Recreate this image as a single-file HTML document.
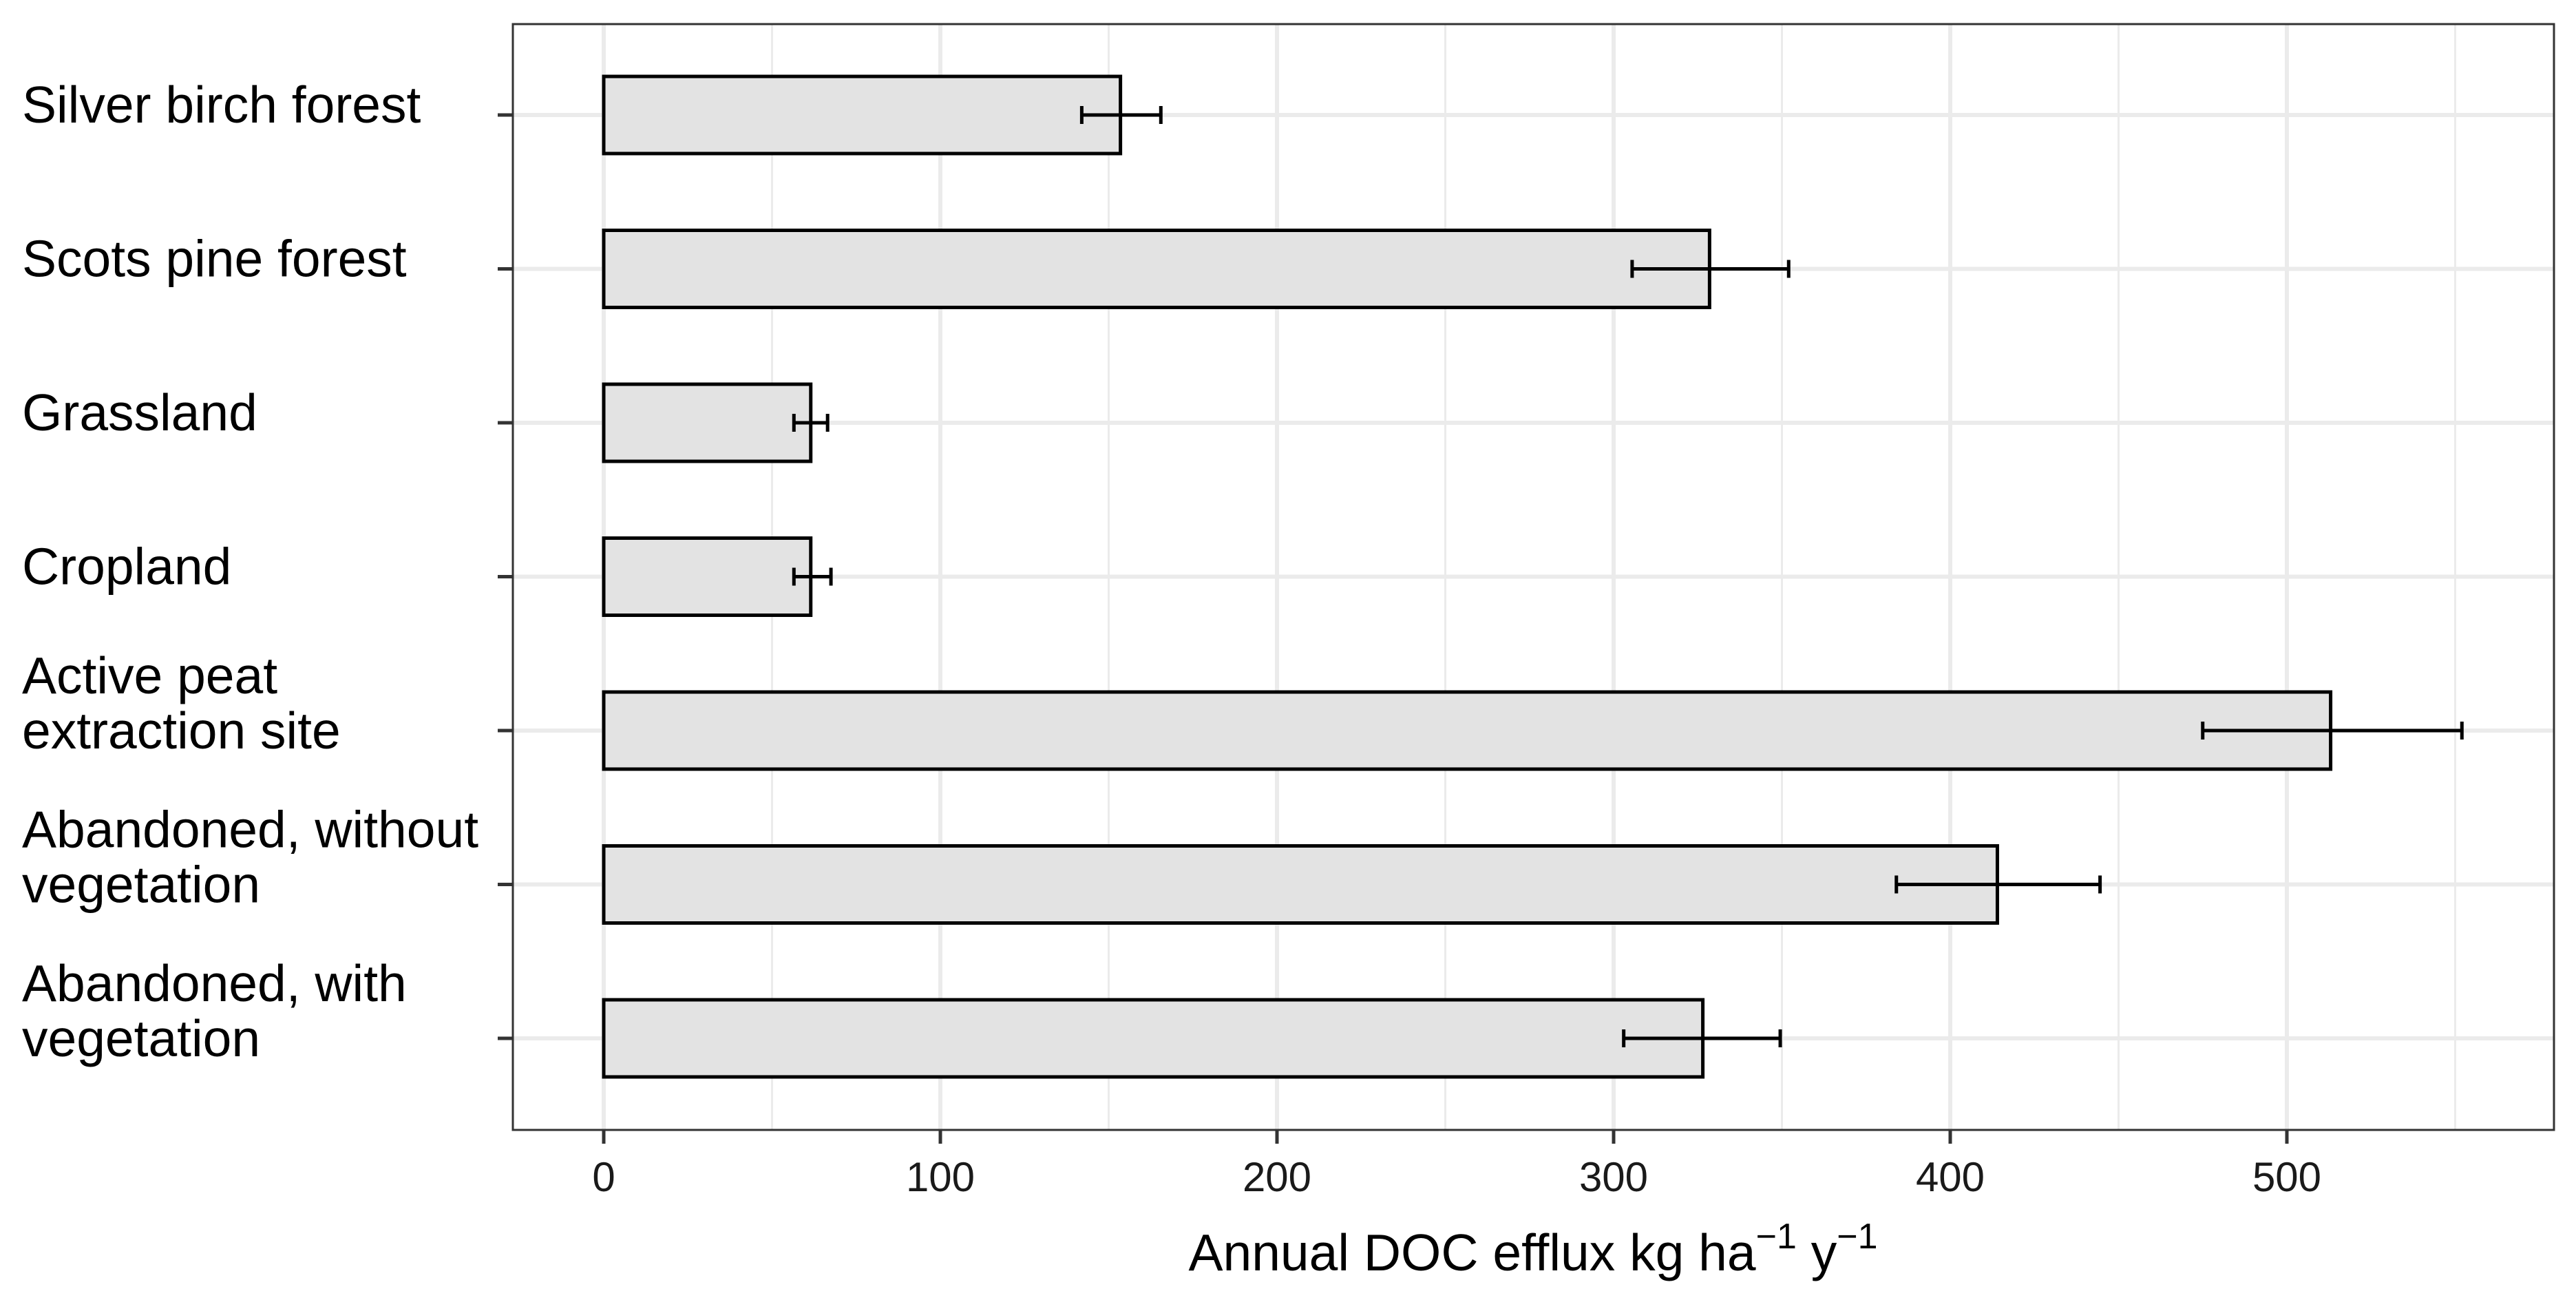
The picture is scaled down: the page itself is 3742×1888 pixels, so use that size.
<!DOCTYPE html>
<html><head><meta charset="utf-8"><style>
html,body{margin:0;padding:0;background:#fff;}
svg{display:block;font-family:"Liberation Sans",Arial,sans-serif;}
</style></head><body>
<svg id="chart" width="3742" height="1888" viewBox="0 0 3742 1888" xmlns="http://www.w3.org/2000/svg">
<rect x="0" y="0" width="3742" height="1888" fill="#fff"/>
<g id="grid"></g>
<g id="bars"></g>
<rect x="745" y="35" width="2965" height="1606" fill="none" stroke="#333" stroke-width="3"/>
<g id="axes"></g>
<text x="2227" y="1845" font-size="75" text-anchor="middle" fill="#000">Annual DOC efflux kg ha<tspan font-size="52" dy="-32">−1</tspan><tspan dy="32"> y</tspan><tspan font-size="52" dy="-32">−1</tspan></text>
</svg>
<script>
const categories = [["Silver birch forest"],["Scots pine forest"],["Grassland"],["Cropland"],["Active peat","extraction site"],["Abandoned, without","vegetation"],["Abandoned, with","vegetation"]];
const values = [153.5, 328.5, 61.5, 61.5, 513, 414, 326.5];
const errLow = [142, 305.5, 56.5, 56.5, 475, 384, 303];
const errHigh = [165.5, 352, 66.5, 67.5, 552, 444.5, 349.5];
const xTicks = [0, 100, 200, 300, 400, 500];
const xMinor = [50, 150, 250, 350, 450, 550];

const NS = "http://www.w3.org/2000/svg";
const X0 = 877, PXU = 4.89;
function xs(v){ return X0 + v * PXU; }
const Y0 = 167, STEP = 223.5;
function ys(i){ return Y0 + i * STEP; }
function mk(tag, attrs, parent){ const e = document.createElementNS(NS, tag); for (const k in attrs) e.setAttribute(k, attrs[k]); parent.appendChild(e); return e; }

const grid = document.getElementById('grid');
const bars = document.getElementById('bars');
const axes = document.getElementById('axes');
const PT = 35, PB = 1641, PL = 745, PR = 3710;

xMinor.forEach(v => {
  const l = mk('line', {x1: xs(v), x2: xs(v), y1: PT, y2: PB, stroke: '#ebebeb', 'stroke-width': 3}, grid);
  
  
});
xTicks.forEach(v => {
  const l = mk('line', {x1: xs(v), x2: xs(v), y1: PT, y2: PB, stroke: '#ebebeb', 'stroke-width': 6}, grid);
  
  
  const t = mk('line', {x1: xs(v), x2: xs(v), y1: PB, y2: PB + 20, stroke: '#333', 'stroke-width': 5}, axes);
  
  
  const tx = mk('text', {x: xs(v), y: 1730, 'font-size': 60, 'text-anchor': 'middle', fill: '#1a1a1a'}, axes);
  tx.textContent = v;
  
  
});
categories.forEach((c, i) => {
  const y = ys(i);
  const g = mk('line', {x1: PL, x2: PR, y1: y, y2: y, stroke: '#ebebeb', 'stroke-width': 6}, grid);
  
  
  const r = mk('rect', {x: xs(0), y: y - 56, width: xs(values[i]) - xs(0), height: 112, fill: '#e3e3e3', stroke: '#000', 'stroke-width': 5}, bars);
  
  
  const eb = mk('path', {d: `M${xs(errLow[i])},${y}H${xs(errHigh[i])}M${xs(errLow[i])},${y-13}V${y+13}M${xs(errHigh[i])},${y-13}V${y+13}`, stroke: '#000', 'stroke-width': 5, fill: 'none'}, bars);
  
  
  const t = mk('line', {x1: PL - 22, x2: PL, y1: y, y2: y, stroke: '#333', 'stroke-width': 5}, axes);
  
  
  const tx = mk('text', {x: 32, 'font-size': 75, fill: '#000'}, axes);
  
  
  if (c.length === 1) {
    tx.setAttribute('y', y + 11);
    tx.textContent = c[0];
  } else {
    tx.setAttribute('y', y - 54);
    const s1 = mk('tspan', {x: 32}, tx); s1.textContent = c[0];
    const s2 = mk('tspan', {x: 32, dy: 80}, tx); s2.textContent = c[1];
  }
});
</script>
</body></html>
